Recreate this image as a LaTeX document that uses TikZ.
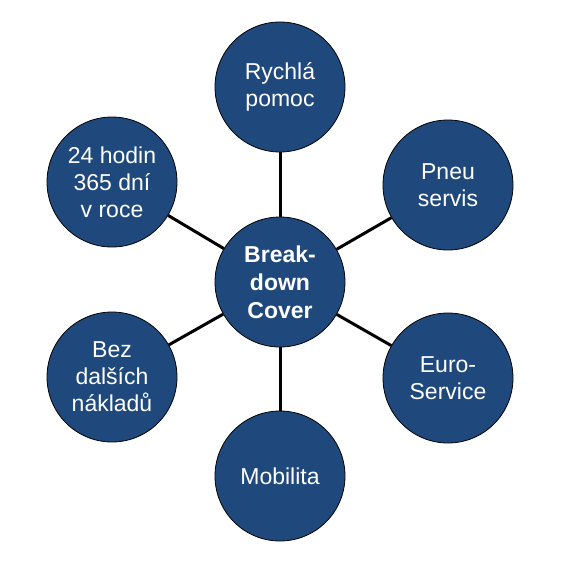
\documentclass[tikz,border=0pt]{standalone}
\usepackage{fontspec}
\setmainfont{Liberation Sans}
\usetikzlibrary{positioning}
\definecolor{CoverBlue}{RGB}{31, 73, 125}

\begin{document}
\begin{tikzpicture}[
        x=1pt, y=-1pt,
        hub/.style={circle, minimum size=130pt, inner sep=0pt, draw=black, line width=0.8pt, fill=CoverBlue, text=white, align=center, font=\fontsize{23}{28}\selectfont\bfseries},
        item/.style={circle, minimum size=130pt, inner sep=0pt, draw=black, line width=0.8pt, fill=CoverBlue, text=white, align=center, font=\fontsize{23}{27}\selectfont},
        spoke/.style={line width=3pt, black}
    ]
        \useasboundingbox (0,0) rectangle (564,574);

        \node (cover) [hub] at (280,282) {Break-\\down\\Cover};
        \node (pomoc) [item] at (280,87) {Rychlá\\pomoc};
        \node (pneu) [item] at (448,185) {Pneu\\servis};
        \node (euro) [item] at (448,378) {Euro-\\Service};
        \node (mobil) [item] at (280,476) {Mobilita};
        \node (naklad) [item] at (112,377) {Bez\\dalších\\nákladů};
        \node (hodin) [item] at (112,182) {24 hodin\\365 dní\\v roce};

        \draw [spoke] (cover) -- (pomoc);
        \draw [spoke] (cover) -- (pneu);
        \draw [spoke] (cover) -- (euro);
        \draw [spoke] (cover) -- (mobil);
        \draw [spoke] (cover) -- (naklad);
        \draw [spoke] (cover) -- (hodin);
    \end{tikzpicture}
\end{document}
